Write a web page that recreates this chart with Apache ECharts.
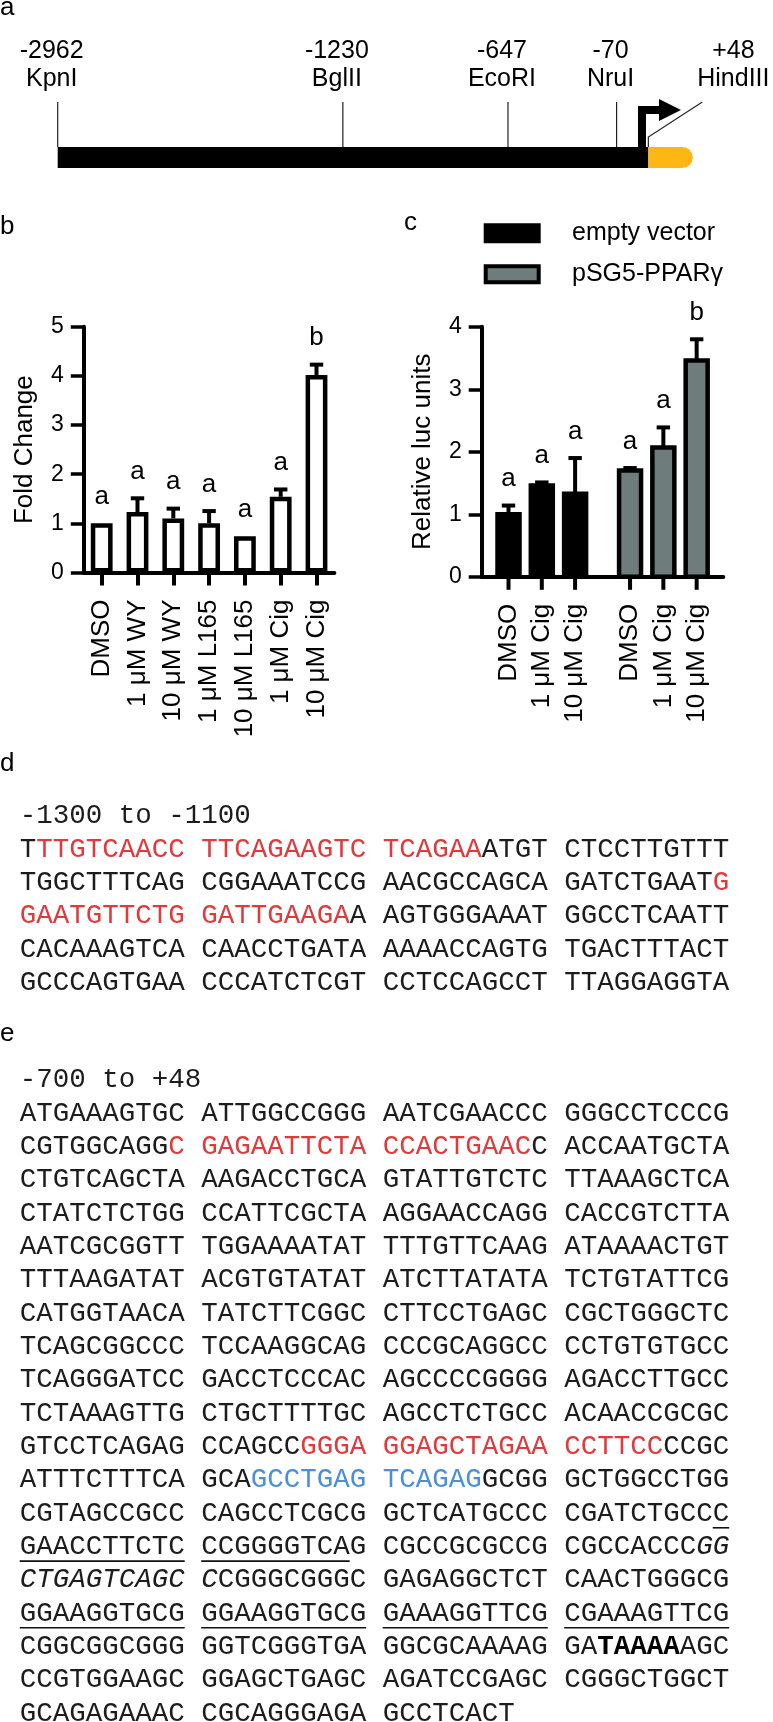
<!DOCTYPE html>
<html><head><meta charset="utf-8">
<script src="https://cdn.jsdelivr.net/npm/echarts@6/dist/echarts.min.js"></script>
<style>html,body{margin:0;padding:0;background:#fff}#c{width:773px;height:1722px}</style>
</head><body><div id="c"></div>
<script>
// ---------------- data ----------------
// panel a: restriction map (schematic map positions, % of drawn construct)
const siteNames  = ['KpnI', 'BglII', 'EcoRI', 'NruI', 'HindIII'];
const siteCoords = ['-2962', '-1230', '-647', '-70', '+48'];
const siteMapX   = [0, 44.9, 70.9, 88.0, 93.0];
const promoterSpan = [0, 93.0];
const utrEnd = 100;
const tssMapX = 92.0;

// panel b
const bCategories = ['DMSO', '1 μM WY', '10 μM WY', '1 μM L165', '10 μM L165', '1 μM Cig', '10 μM Cig'];
const bMeans   = [1.00, 1.23, 1.10, 1.00, 0.74, 1.54, 4.02];
const bSem     = [0, 0.28, 0.20, 0.25, 0, 0.15, 0.21];
const bLetters = ['a', 'a', 'a', 'a', 'a', 'a', 'b'];
const bTicks   = [0, 1, 2, 3, 4, 5];

// panel c
const cGroups     = ['empty vector', 'pSG5-PPARγ'];
const cTreatments = ['DMSO', '1 μM Cig', '10 μM Cig'];
const cMeans   = [[1.00, 1.46, 1.33], [1.70, 2.07, 3.46]];
const cSem     = [[0.14, 0.05, 0.57], [0.04, 0.32, 0.34]];
const cLetters = [['a', 'a', 'a'], ['a', 'a', 'b']];
const cTicks   = [0, 1, 2, 3, 4];

// panels d / e: sequences ({r|..} red, {u|..} blue, {i|..} italic, {b|..} bold)
const dHeader = '-1300 to -1100';
const dRows = [
  'T{r|TTGTCAACC TTCAGAAGTC TCAGAA}ATGT CTCCTTGTTT',
  'TGGCTTTCAG CGGAAATCCG AACGCCAGCA GATCTGAAT{r|G}',
  '{r|GAATGTTCTG GATTGAAGA}A AGTGGGAAAT GGCCTCAATT',
  'CACAAAGTCA CAACCTGATA AAAACCAGTG TGACTTTACT',
  'GCCCAGTGAA CCCATCTCGT CCTCCAGCCT TTAGGAGGTA'
];
const eHeader = '-700 to +48';
const eRows = [
  'ATGAAAGTGC ATTGGCCGGG AATCGAACCC GGGCCTCCCG',
  'CGTGGCAGG{r|C GAGAATTCTA CCACTGAAC}C ACCAATGCTA',
  'CTGTCAGCTA AAGACCTGCA GTATTGTCTC TTAAAGCTCA',
  'CTATCTCTGG CCATTCGCTA AGGAACCAGG CACCGTCTTA',
  'AATCGCGGTT TGGAAAATAT TTTGTTCAAG ATAAAACTGT',
  'TTTAAGATAT ACGTGTATAT ATCTTATATA TCTGTATTCG',
  'CATGGTAACA TATCTTCGGC CTTCCTGAGC CGCTGGGCTC',
  'TCAGCGGCCC TCCAAGGCAG CCCGCAGGCC CCTGTGTGCC',
  'TCAGGGATCC GACCTCCCAC AGCCCCGGGG AGACCTTGCC',
  'TCTAAAGTTG CTGCTTTTGC AGCCTCTGCC ACAACCGCGC',
  'GTCCTCAGAG CCAGCC{r|GGGA GGAGCTAGAA CCTTCC}CCGC',
  'ATTTCTTTCA GCA{u|GCCTGAG TCAGAG}GCGG GCTGGCCTGG',
  'CGTAGCCGCC CAGCCTCGCG GCTCATGCCC CGATCTGCCC',
  'GAACCTTCTC CCGGGGTCAG CGCCGCGCCG CGCCACCC{i|GG}',
  '{i|CTGAGTCAGC C}CGGGCGGGC GAGAGGCTCT CAACTGGGCG',
  'GGAAGGTGCG GGAAGGTGCG GAAAGGTTCG CGAAAGTTCG',
  'CGGCGGCGGG GGTCGGGTGA GGCGCAAAAG GA{b|TAAAA}AGC',
  'CCGTGGAAGC GGAGCTGAGC AGATCCGAGC CGGGCTGGCT',
  'GCAGAGAAAC CGCAGGGAGA GCCTCACT'
];
// underlined stretches: [row, first char, last char]
const eUnderlines = [[12, 42, 42], [13, 0, 9], [13, 11, 19], [15, 0, 9], [15, 11, 20], [15, 22, 31], [15, 33, 42]];

// ---------------- styles ----------------
const FONT = "'Liberation Sans', Arial, Helvetica, sans-serif";
const MONO = "'Liberation Mono', 'Courier New', monospace";
const RED = '#df3a3c', BLUE = '#4a8fd8', ORANGE = '#fdb614';
const cColors = ['#000000', '#6e7c7c'];
const SEQ_FS = 27.5, ADV = SEQ_FS * 0.6, SEQ_LEFT = 19.7, LINE_H = 33.33;
const SEQ_COLOR = '#1c1c1c';
const GROUP_GAP = 0.65;

const chart = echarts.init(document.getElementById('c'), null, {renderer: 'canvas', width: 773, height: 1722});

// ---------- panel a render ----------
function renderConstruct(params, api) {
  const a0 = api.coord([api.value(0), 1]);
  const a1 = api.coord([api.value(1), 0]);
  const a2 = api.coord([api.value(2), 0]);
  const h = a1[1] - a0[1];
  return {type: 'group', children: [
    {type: 'rect', shape: {x: a0[0], y: a0[1], width: a1[0] - a0[0], height: h}, style: {fill: '#000'}},
    {type: 'rect', shape: {x: a1[0], y: a0[1], width: a2[0] - a1[0], height: h, r: [0, h / 2, h / 2, 0]}, style: {fill: ORANGE}}
  ]};
}
function renderSite(params, api) {
  const i = params.dataIndex;
  const p = api.coord([api.value(0), 1]);
  const last = i === siteNames.length - 1;
  const ch = [];
  let lx;
  if (!last) {
    ch.push({type: 'line', shape: {x1: p[0], y1: p[1], x2: p[0], y2: p[1] - 45}, style: {stroke: '#222', lineWidth: 1.2}});
    lx = p[0] - 6;
  } else {
    ch.push({type: 'polyline', shape: {points: [[p[0], p[1]], [p[0], p[1] - 10], [p[0] + 54, p[1] - 45]]}, style: {stroke: '#222', lineWidth: 1.2, fill: null}});
    lx = p[0] + 85;
  }
  const ts = {fill: '#000', fontSize: 25, fontFamily: FONT, align: 'center', verticalAlign: 'middle'};
  ch.push({type: 'text', x: lx, y: p[1] - 96, style: Object.assign({text: siteCoords[i]}, ts)});
  ch.push({type: 'text', x: lx, y: p[1] - 68, style: Object.assign({text: siteNames[i]}, ts)});
  return {type: 'group', children: ch};
}
function renderTss(params, api) {
  const p = api.coord([api.value(0), 1]);
  const x = p[0], y = p[1], yt = y - 37;
  return {type: 'group', children: [
    {type: 'polyline', shape: {points: [[x, y], [x, yt], [x + 20, yt]]}, style: {stroke: '#000', lineWidth: 8, fill: null, lineJoin: 'miter'}},
    {type: 'polygon', shape: {points: [[x + 17, yt - 11], [x + 39, yt], [x + 17, yt + 11]]}, style: {fill: '#000'}}
  ]};
}

// ---------- panel b render ----------
function letterText(x, y, t) {
  return {type: 'text', x: x, y: y, style: {text: t, fill: '#000', fontSize: 26, fontFamily: FONT, align: 'center', verticalAlign: 'middle'}};
}
function errorBar(p0, p1, ch) {
  ch.push({type: 'line', shape: {x1: p0[0], y1: p0[1], x2: p1[0], y2: p1[1]}, style: {stroke: '#000', lineWidth: 4}});
  ch.push({type: 'line', shape: {x1: p1[0] - 6.7, y1: p1[1], x2: p1[0] + 6.7, y2: p1[1]}, style: {stroke: '#000', lineWidth: 4}});
}
function renderErrB(params, api) {
  const i = api.value(0), m = api.value(1), e = api.value(2);
  const p0 = api.coord([i, m]), p1 = api.coord([i, e]);
  const ch = [];
  if (e > m) errorBar(p0, p1, ch);
  ch.push(letterText(p1[0], p1[1] - 26.5, bLetters[params.dataIndex]));
  return {type: 'group', children: ch};
}

// ---------- panel c render ----------
function makeRenderC(gi) {
  return function (params, api) {
    const k = params.dataIndex;
    const x = api.value(0), m = api.value(1), e = api.value(2);
    const base = api.coord([x, 0]), top = api.coord([x, m]), et = api.coord([x, e]);
    const unit = api.size([1, 0])[0];
    const hw = unit * 0.33;
    const ch = [];
    ch.push({type: 'line', shape: {x1: base[0], y1: base[1], x2: base[0], y2: base[1] + 13}, style: {stroke: '#000', lineWidth: 4}});
    ch.push({type: 'rect', shape: {x: base[0] - hw, y: top[1], width: 2 * hw, height: base[1] - top[1]},
      style: {fill: cColors[gi], stroke: '#000', lineWidth: 4.5}});
    if (e > m) errorBar(top, et, ch);
    ch.push(letterText(et[0], et[1] - 26.5, cLetters[gi][k]));
    ch.push({type: 'text', x: base[0], y: base[1] + 27, rotation: Math.PI / 2,
      style: {text: cTreatments[k], fill: '#000', fontSize: 26, fontFamily: FONT, align: 'right', verticalAlign: 'middle'}});
    return {type: 'group', children: ch};
  };
}

// ---------- axes ----------
const axisLineStyle = {color: '#000', width: 4};
function valueY(gridIndex, ticks, name) {
  return {
    gridIndex: gridIndex, type: 'value', min: ticks[0], max: ticks[ticks.length - 1], interval: ticks[1] - ticks[0],
    axisLine: {show: true, onZero: false, lineStyle: axisLineStyle},
    axisTick: {show: true, length: 13, lineStyle: {color: '#000', width: 3.5}},
    axisLabel: {fontSize: 23, color: '#000', margin: 20, fontFamily: FONT},
    splitLine: {show: false},
    name: name, nameLocation: 'middle', nameGap: 46,
    nameTextStyle: {fontSize: 26, color: '#000', fontFamily: FONT}
  };
}

const series = [
  {type: 'custom', xAxisIndex: 0, yAxisIndex: 0, renderItem: renderConstruct, encode: {x: [0, 1, 2]},
    data: [[promoterSpan[0], promoterSpan[1], utrEnd]], silent: true},
  {type: 'custom', xAxisIndex: 0, yAxisIndex: 0, renderItem: renderSite, encode: {x: 0},
    data: siteMapX.map(function (x) { return [x]; }), silent: true, z: 3},
  {type: 'custom', xAxisIndex: 0, yAxisIndex: 0, renderItem: renderTss, encode: {x: 0},
    data: [[tssMapX]], silent: true, z: 4},
  {type: 'bar', xAxisIndex: 1, yAxisIndex: 1, data: bMeans, barWidth: 21.8,
    itemStyle: {color: '#fff', borderColor: '#000', borderWidth: 4.5}, silent: true},
  {type: 'custom', xAxisIndex: 1, yAxisIndex: 1, renderItem: renderErrB, encode: {x: 0, y: [1, 2]},
    data: bMeans.map(function (m, i) { return [i, m, m + bSem[i]]; }), silent: true, z: 5}
];
cGroups.forEach(function (g, gi) {
  series.push({
    type: 'custom', name: g, xAxisIndex: 2, yAxisIndex: 2, renderItem: makeRenderC(gi),
    encode: {x: 0, y: [1, 2]}, itemStyle: {color: cColors[gi]}, silent: true, z: 5,
    data: cMeans[gi].map(function (m, k) { return [gi * (cTreatments.length + GROUP_GAP) + k, m, m + cSem[gi][k]]; })
  });
});

// ---------- text panels ----------
const graphics = [];
function panelLabel(t, x, y) {
  graphics.push({type: 'text', x: x, y: y, style: {text: t, fill: '#000', fontSize: 26, fontFamily: FONT, align: 'left', verticalAlign: 'middle'}});
}
panelLabel('a', 0, 7.7);
panelLabel('b', 0, 226.7);
panelLabel('c', 404, 223);
panelLabel('d', 0, 764);
panelLabel('e', 0, 1034);

const richSeq = {
  r: {fill: RED, fontSize: SEQ_FS, fontFamily: MONO},
  u: {fill: BLUE, fontSize: SEQ_FS, fontFamily: MONO},
  i: {fill: SEQ_COLOR, fontSize: SEQ_FS, fontFamily: MONO, fontStyle: 'italic'},
  b: {fill: '#000', fontSize: SEQ_FS, fontFamily: MONO, fontWeight: 'bold'}
};
function seqBlock(header, rows, headerY, underlines) {
  graphics.push({type: 'text', x: SEQ_LEFT, y: headerY,
    style: {text: header, fill: SEQ_COLOR, fontSize: SEQ_FS, fontFamily: MONO, align: 'left', verticalAlign: 'middle'}});
  rows.forEach(function (row, r) {
    graphics.push({type: 'text', x: SEQ_LEFT, y: headerY + (r + 1) * LINE_H,
      style: {text: row, fill: SEQ_COLOR, fontSize: SEQ_FS, fontFamily: MONO, align: 'left', verticalAlign: 'middle', rich: richSeq}});
  });
  underlines.forEach(function (u) {
    const y = headerY + (u[0] + 1) * LINE_H + 14.5;
    graphics.push({type: 'line', shape: {x1: SEQ_LEFT + u[1] * ADV, y1: y, x2: SEQ_LEFT + (u[2] + 1) * ADV, y2: y},
      style: {stroke: '#111', lineWidth: 1.6}});
  });
}
seqBlock(dHeader, dRows, 816, []);
seqBlock(eHeader, eRows, 1080, eUnderlines);

const option = {
  animation: false,
  backgroundColor: '#fff',
  textStyle: {fontFamily: FONT},
  grid: [
    {left: 57.7, width: 635.1, top: 147, height: 21, outerBoundsMode: 'none'},
    {left: 83.8, width: 250.6, top: 326.8, height: 245.7, outerBoundsMode: 'none'},
    {left: 481.7, width: 241.6, top: 326.8, height: 250, outerBoundsMode: 'none'}
  ],
  xAxis: [
    {gridIndex: 0, type: 'value', min: 0, max: 100, show: false},
    {gridIndex: 1, type: 'category', data: bCategories,
      axisLine: {show: true, lineStyle: axisLineStyle},
      axisTick: {show: true, alignWithLabel: true, interval: 0, length: 13, lineStyle: {color: '#000', width: 4}},
      axisLabel: {rotate: 90, interval: 0, fontSize: 26, color: '#000', margin: 27, fontFamily: FONT},
      splitLine: {show: false}},
    {gridIndex: 2, type: 'value', min: -0.805, max: 6.45,
      axisLine: {show: true, lineStyle: axisLineStyle},
      axisTick: {show: false}, axisLabel: {show: false}, splitLine: {show: false}}
  ],
  yAxis: [
    {gridIndex: 0, type: 'value', min: 0, max: 1, show: false},
    valueY(1, bTicks, 'Fold Change'),
    valueY(2, cTicks, 'Relative luc units')
  ],
  legend: {
    data: cGroups.map(function (g, gi) { return {name: g, icon: 'rect', itemStyle: {color: cColors[gi], borderColor: '#000', borderWidth: 4}}; }),
    orient: 'vertical', left: 483.7, top: 220.7, padding: 0, itemWidth: 53, itemHeight: 16, itemGap: 16,
    selectedMode: false,
    textStyle: {fontSize: 25, color: '#000', fontFamily: FONT, lineHeight: 16, padding: [0, 0, 0, 28.3]}
  },
  series: series,
  graphic: {elements: graphics}
};
chart.setOption(option);
</script>
</body></html>
